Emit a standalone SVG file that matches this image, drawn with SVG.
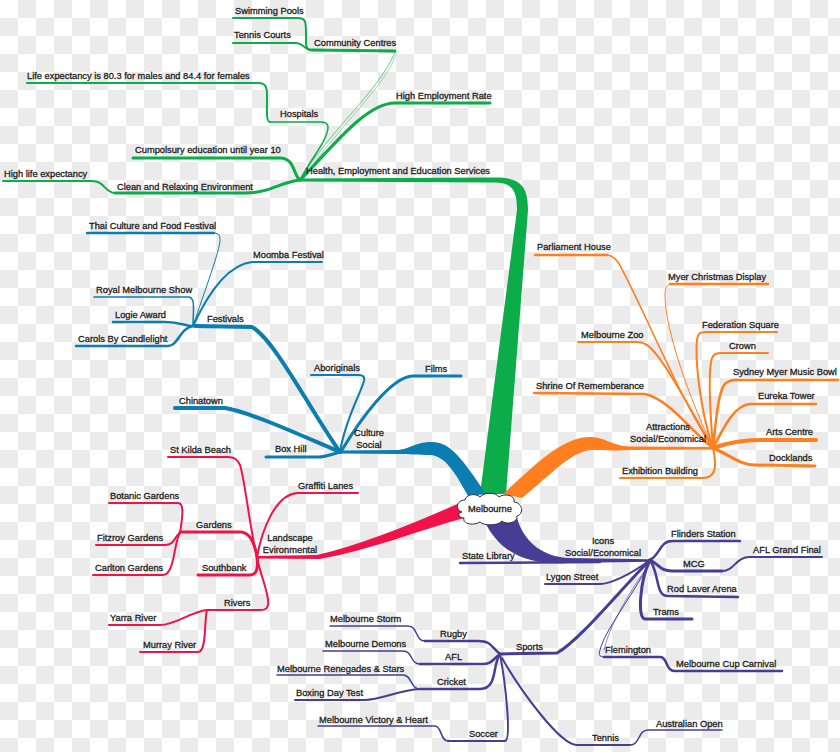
<svg xmlns="http://www.w3.org/2000/svg" width="840" height="752" viewBox="0 0 840 752">
<defs>
<pattern id="chk" width="36" height="36" patternUnits="userSpaceOnUse">
<rect width="36" height="36" fill="#ffffff"/>
<rect x="18" y="0" width="18" height="18" fill="#ebebeb"/>
<rect x="0" y="18" width="18" height="18" fill="#ebebeb"/>
</pattern>
</defs>
<style>
.t{font-family:"Liberation Sans",Arial,sans-serif;font-size:9.3px;fill:#1c1c1c;stroke:#1c1c1c;stroke-width:0.3}
.m{text-anchor:middle}
.c path{fill:none;stroke-linecap:round;stroke-linejoin:round}
.G{stroke:#0cac4a}.B{stroke:#0b7db0}.O{stroke:#ff7f1f}.R{stroke:#f2124a}.P{stroke:#483d94}
.tr path{stroke:none}
.tr .fG{fill:#0cac4a}.tr .fB{fill:#0b7db0}.tr .fO{fill:#ff7f1f}.tr .fR{fill:#f2124a}.tr .fP{fill:#483d94}
.w1{stroke-width:1}.w15{stroke-width:1.5}.w2{stroke-width:2}.w25{stroke-width:2.5}.w3{stroke-width:3}.w4{stroke-width:4}
</style>
<rect width="840" height="752" fill="url(#chk)"/>

<g id="connectors">
<g class="c">
<!-- green -->
<path class="G w3" d="M300 180 C 280 182, 270 193, 245 193 L 115 193"/>
<path class="G w2" d="M115 193 C 105 193, 105 181, 92 181 L 3 181"/>
<path class="G w3" d="M300 180 C 293 175, 295 158, 280 158 L 133 158"/>
<path class="G w15" d="M300 180 C 310 160, 328 140, 328 127 C 328 123, 325 122, 320 122 L 270 122"/>
<path class="G w2" d="M270 122 C 266 122, 267 110, 267 95 C 267 86, 265 83, 258 83 L 27 83"/>
<path class="G w1" stroke-opacity="0.6" d="M300 180 C 330 130, 380 90, 395 52"/>
<path class="G w1" stroke-opacity="0.4" d="M303 178 C 345 120, 388 82, 396 54"/>
<path class="G w3" d="M395 51 L 312 50"/>
<path class="G w2" d="M312 50 C 305 50, 306 45, 306 35 C 306 22, 306 18, 298 18 L 233 18"/>
<path class="G w2" d="M312 50 C 303 50, 305 43, 295 43 L 233 43"/>
<path class="G w3" d="M300 180 C 330 150, 365 103, 395 103 L 490 103"/>
<!-- blue -->
<path class="B w3" d="M340 452 C 330 455, 325 457, 318 457 L 266 457"/>
<path class="B w4" d="M340 452 C 300 435, 250 412, 225 408 L 175 408"/>
<path class="B w4" d="M340 452 C 310 410, 275 340, 252 327 L 195 326"/>
<path class="B w2" d="M340 452 C 345 420, 360 395, 364 381 C 365 376, 362 375, 358 375 L 311 375"/>
<path class="B w3" d="M342 450 C 360 420, 390 378, 412 376 L 461 376"/>
<path class="B w25" d="M193 326 C 180 328, 178 346, 168 346 L 76 346"/>
<path class="B w25" d="M193 326 C 185 326, 180 322, 165 322 L 113 322"/>
<path class="B w15" d="M193 326 C 193 310, 196 297, 188 297 L 94 297"/>
<path class="B w2" d="M193 326 C 205 300, 225 265, 252 262 L 322 262"/>
<path class="B w1" d="M193 326 C 205 290, 220 250, 220 240 C 220 234, 218 233, 212 233"/>
<path class="B w25" d="M214 233 L 87 233"/>
<!-- orange -->
<path class="O w15" d="M713 448 C 680 400, 640 300, 618 262 C 613 256, 610 255, 605 255"/>
<path class="O w25" d="M607 255 L 535 255"/>
<path class="O w1" d="M713 448 C 690 400, 665 330, 665 295 C 665 287, 667 284, 672 284"/>
<path class="O w25" d="M670 284 L 768 284"/>
<path class="O w2" d="M713 448 C 690 410, 660 350, 645 344 C 642 342, 640 342, 636 342 L 578 342"/>
<path class="O w2" d="M713 448 C 700 410, 695 360, 697 340 C 698 333, 700 332, 706 332 L 777 332"/>
<path class="O w2" d="M713 448 C 710 410, 708 370, 712 358 C 714 354, 716 353, 722 353 L 768 353"/>
<path class="O w25" d="M713 448 C 716 420, 718 395, 724 385 C 727 381, 730 380, 736 380 L 838 380"/>
<path class="O w25" d="M713 448 C 690 430, 670 400, 645 394 L 534 393"/>
<path class="O w25" d="M713 448 C 725 425, 735 405, 750 404 L 816 404"/>
<path class="O w4" d="M713 448 C 730 442, 745 440, 760 440 L 816 440"/>
<path class="O w3" d="M713 448 C 730 455, 740 465, 755 465 L 815 466"/>
<path class="O w2" d="M713 448 C 716 462, 718 478, 703 478 L 620 478"/>
<!-- red -->
<path class="R w2" d="M257 557 C 250 530, 245 480, 240 465 C 237 459, 234 457, 228 457 L 168 457"/>
<path class="R w2" d="M257 557 C 262 530, 275 495, 297 493 L 358 493"/>
<path class="R w3" d="M257 557 C 255 545, 250 532, 240 532 L 180 532"/>
<path class="R w3" d="M257 557 C 258 565, 258 575, 250 575 L 198 575"/>
<path class="R w2" d="M257 557 C 260 575, 270 595, 268 605 C 267 609, 265 610, 260 610 L 207 610"/>
<path class="R w2" d="M180 533 C 182 520, 185 503, 178 503 L 109 503"/>
<path class="R w2" d="M180 533 C 175 535, 175 545, 165 545 L 96 545"/>
<path class="R w2" d="M180 533 C 174 540, 175 575, 163 575 L 93 575"/>
<path class="R w2" d="M207 610 C 190 612, 175 625, 160 625 L 109 625"/>
<path class="R w2" d="M207 610 C 204 620, 207 652, 198 652 L 140 652"/>
<!-- purple -->
<path class="P w25" d="M460 563 L 600 562"/>
<path class="P w25" d="M650 560 C 660 555, 660 541, 672 541 L 740 541"/>
<path class="P w3" d="M650 560 C 660 565, 660 571, 672 571 L 722 571"/>
<path class="P w2" d="M722 571 C 735 571, 735 557, 750 557 L 822 557"/>
<path class="P w25" d="M650 560 C 660 575, 655 596, 668 596 L 738 597"/>
<path class="P w3" d="M650 560 C 640 580, 637 619, 645 619 L 692 619"/>
<path class="P w2" d="M650 560 C 630 575, 610 584, 600 584 L 545 584"/>
<path class="P w3" d="M650 560 C 620 590, 580 640, 557 653 L 500 654"/>
<path class="P w1" d="M650 562 C 630 600, 605 630, 600 650 C 598 656, 600 657, 606 657"/>
<path class="P w1" stroke-opacity="0.6" d="M648 565 C 625 600, 610 625, 604 650"/>
<path class="P w25" d="M604 657 L 660 657 C 668 657, 665 671, 675 671 L 782 671"/>
<path class="P w25" d="M500 654 C 490 645, 490 641, 478 641 L 425 641"/>
<path class="P w15" d="M425 641 C 415 641, 418 626, 408 626 L 330 626"/>
<path class="P w25" d="M500 654 C 492 660, 492 664, 482 664 L 420 664"/>
<path class="P w15" d="M420 664 C 410 664, 413 651, 403 651 L 323 651"/>
<path class="P w25" d="M500 654 C 492 665, 498 689, 480 689 L 420 689"/>
<path class="P w15" d="M420 689 C 410 689, 412 675, 403 675 L 277 675"/>
<path class="P w2" d="M420 689 C 400 690, 380 700, 365 700 L 295 700"/>
<path class="P w2" d="M500 654 C 505 680, 512 740, 505 741 L 448 741"/>
<path class="P w15" d="M448 741 C 440 741, 442 726, 435 726 L 318 726"/>
<path class="P w2" d="M502 658 C 520 690, 560 745, 577 745 L 630 745"/>
<path class="P w15" d="M630 745 C 640 745, 638 730, 648 730 L 722 730"/>
</g>
<g class="tr">
<path class="fG" d="M506 494 L 528 210 C 528 186, 520 177.5, 495 177.5 L 300 178.5 L 300 181.5 L 495 182.5 C 512 183, 517 190, 517 210 L 480 494 Z"/>
<path class="fB" d="M340 450.5 L 398 450 C 410 449, 415 442, 432 442 C 450 442, 462 458, 486 494 L 468 496 C 455 472, 445 456, 430 455 C 418 455, 410 454, 398 454 L 340 453.5 Z"/>
<path class="fO" d="M503 494 C 530 470, 560 437, 590 437 C 605 437, 612 446, 630 446.5 L 713 447 L 713 449.5 L 630 450 C 612 451, 600 450, 590 450 C 570 452, 545 480, 522 498 Z"/>
<path class="fR" d="M257 556 L 317 555 C 360 545, 410 525, 462 502 L 464 518 C 420 530, 370 550, 320 559 L 257 558.5 Z"/>
<path class="fP" d="M517 518 C 525 545, 545 556, 567 558 L 650 559.3 L 650 561.7 L 567 563 C 530 565, 500 555, 484 520 Z"/>
</g>
</g>

<g id="melbourne">
<path d="M462 512 C 455 510, 456 500, 465 500 C 466 494, 476 493, 480 497 C 484 492, 496 492, 499 497 C 504 493, 516 495, 514 502 C 523 503, 524 514, 517 516 C 518 523, 506 525, 502 521 C 498 526, 484 526, 480 522 C 474 526, 462 524, 464 518 C 458 518, 457 513, 462 512 Z" fill="#ffffff" stroke="#2a2a3a" stroke-width="1"/>
<text class="t m" x="490" y="512">Melbourne</text>
</g>

<g id="health"><text class="t" x="306" y="174">Health, Employment and Education Services</text></g>
<g id="swimming"><text class="t" x="235" y="14">Swimming Pools</text></g>
<g id="tennis-courts"><text class="t" x="234" y="38">Tennis Courts</text></g>
<g id="community"><text class="t" x="314" y="46">Community Centres</text></g>
<g id="life-exp"><text class="t" x="27" y="79">Life expectancy is 80.3 for males and 84.4 for females</text></g>
<g id="employment"><text class="t" x="396" y="99">High Employment Rate</text></g>
<g id="hospitals"><text class="t" x="280" y="117">Hospitals</text></g>
<g id="education"><text class="t" x="135" y="153">Cumpolsury education until year 10</text></g>
<g id="high-life"><text class="t" x="4" y="177">High life expectancy</text></g>
<g id="clean"><text class="t" x="117" y="190">Clean and Relaxing Environment</text></g>

<g id="culture"><text class="t m" x="369" y="436">Culture</text><text class="t m" x="369" y="448">Social</text></g>
<g id="thai"><text class="t" x="89" y="229">Thai Culture and Food Festival</text></g>
<g id="moomba"><text class="t" x="253" y="258">Moomba Festival</text></g>
<g id="royal"><text class="t" x="96" y="293">Royal Melbourne Show</text></g>
<g id="logie"><text class="t" x="115" y="318">Logie Award</text></g>
<g id="festivals"><text class="t" x="207" y="322">Festivals</text></g>
<g id="carols"><text class="t" x="78" y="342">Carols By Candlelight</text></g>
<g id="aboriginals"><text class="t" x="314" y="371">Aboriginals</text></g>
<g id="films"><text class="t" x="425" y="372">Films</text></g>
<g id="chinatown"><text class="t" x="179" y="404">Chinatown</text></g>
<g id="boxhill"><text class="t" x="275" y="452">Box Hill</text></g>

<g id="attractions"><text class="t m" x="668" y="430">Attractions</text><text class="t m" x="668" y="442">Social/Economical</text></g>
<g id="parliament"><text class="t" x="537" y="250">Parliament House</text></g>
<g id="myer"><text class="t" x="668" y="280">Myer Christmas Display</text></g>
<g id="federation"><text class="t" x="702" y="328">Federation Square</text></g>
<g id="zoo"><text class="t" x="581" y="338">Melbourne Zoo</text></g>
<g id="crown"><text class="t" x="729" y="349">Crown</text></g>
<g id="music-bowl"><text class="t" x="733" y="375">Sydney Myer Music Bowl</text></g>
<g id="shrine"><text class="t" x="536" y="389">Shrine Of Rememberance</text></g>
<g id="eureka"><text class="t" x="758" y="399">Eureka Tower</text></g>
<g id="arts"><text class="t" x="766" y="435">Arts Centre</text></g>
<g id="docklands"><text class="t" x="769" y="461">Docklands</text></g>
<g id="exhibition"><text class="t" x="622" y="474">Exhibition Building</text></g>

<g id="landscape"><text class="t m" x="290" y="541">Landscape</text><text class="t m" x="290" y="553">Evironmental</text></g>
<g id="stkilda"><text class="t" x="170" y="453">St Kilda Beach</text></g>
<g id="graffiti"><text class="t" x="298" y="489">Graffiti Lanes</text></g>
<g id="botanic"><text class="t" x="110" y="499">Botanic Gardens</text></g>
<g id="gardens"><text class="t" x="196" y="528">Gardens</text></g>
<g id="fitzroy"><text class="t" x="97" y="541">Fitzroy Gardens</text></g>
<g id="carlton"><text class="t" x="95" y="571">Carlton Gardens</text></g>
<g id="southbank"><text class="t" x="202" y="571">Southbank</text></g>
<g id="rivers"><text class="t" x="224" y="606">Rivers</text></g>
<g id="yarra"><text class="t" x="110" y="621">Yarra River</text></g>
<g id="murray"><text class="t" x="143" y="648">Murray River</text></g>

<g id="icons"><text class="t m" x="603" y="544">Icons</text><text class="t m" x="603" y="556">Social/Economical</text></g>
<g id="state-library"><text class="t" x="462" y="559">State Library</text></g>
<g id="flinders"><text class="t" x="671" y="537">Flinders Station</text></g>
<g id="afl-gf"><text class="t" x="753" y="553">AFL Grand Final</text></g>
<g id="mcg"><text class="t" x="683" y="567">MCG</text></g>
<g id="lygon"><text class="t" x="546" y="580">Lygon Street</text></g>
<g id="rod-laver"><text class="t" x="667" y="592">Rod Laver Arena</text></g>
<g id="trams"><text class="t" x="653" y="615">Trams</text></g>
<g id="sports"><text class="t" x="516" y="650">Sports</text></g>
<g id="flemington"><text class="t" x="605" y="653">Flemington</text></g>
<g id="cup"><text class="t" x="676" y="667">Melbourne Cup Carnival</text></g>
<g id="storm"><text class="t" x="330" y="622">Melbourne Storm</text></g>
<g id="rugby"><text class="t" x="440" y="637">Rugby</text></g>
<g id="demons"><text class="t" x="325" y="647">Melbourne Demons</text></g>
<g id="afl"><text class="t" x="445" y="660">AFL</text></g>
<g id="renegades"><text class="t" x="277" y="672">Melbourne Renegades &amp; Stars</text></g>
<g id="cricket"><text class="t" x="437" y="685">Cricket</text></g>
<g id="boxing"><text class="t" x="296" y="696">Boxing Day Test</text></g>
<g id="victory"><text class="t" x="319" y="723">Melbourne Victory &amp; Heart</text></g>
<g id="soccer"><text class="t" x="469" y="737">Soccer</text></g>
<g id="aus-open"><text class="t" x="656" y="727">Australian Open</text></g>
<g id="tennis"><text class="t" x="592" y="741">Tennis</text></g>
</svg>
